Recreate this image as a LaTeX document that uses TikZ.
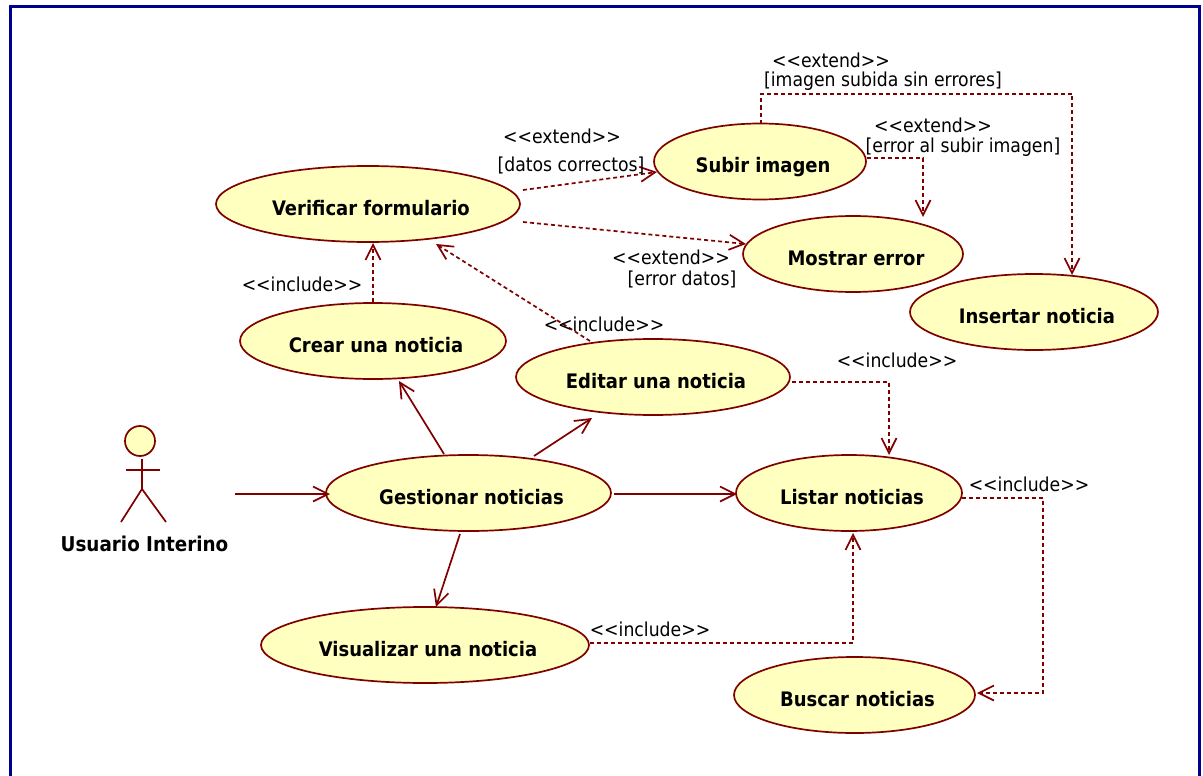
\documentclass[tikz,border=0pt]{standalone}
\usepackage{fontspec}
\setmainfont{DejaVu Sans Condensed}
\usetikzlibrary{shapes.geometric,arrows.meta}
\definecolor{umlred}{HTML}{800000}
\definecolor{umlfill}{HTML}{FFFFC0}
\definecolor{umlblue}{HTML}{000090}
\tikzset{
 usecase/.style={ellipse,draw=umlred,fill=umlfill,line width=1.7pt,inner sep=0pt,text height=22pt,text depth=0pt,font=\fontsize{20}{23}\selectfont\bfseries,execute at begin node={\hspace*{6pt}}},
 lbl/.style={inner sep=0pt,align=center,font=\fontsize{19.2}{22}\selectfont},
 assoc/.style={draw=umlred,line width=1.7pt,-{Straight Barb[length=15pt,width=15pt,line width=1.7pt]}},
 dep/.style={assoc,dash pattern=on 4pt off 3pt},
 limb/.style={draw=umlred,line width=1.7pt},
}
\begin{document}
\begin{tikzpicture}[x=1pt,y=-1pt]
\useasboundingbox (0,0) rectangle (1203,776);
\draw[umlblue,line width=3pt] (10.5,776) -- (10.5,6.5) -- (1199.5,6.5) -- (1199.5,776);
% use cases
\node[usecase,minimum width=304pt,minimum height=76pt] (verif) at (368,204) {Verificar formulario};
\node[usecase,minimum width=212pt,minimum height=76pt] (subir) at (760,161.5) {Subir imagen};
\node[usecase,minimum width=220pt,minimum height=76pt] (mostrar) at (853,254) {Mostrar error};
\node[usecase,minimum width=248pt,minimum height=76pt] (insertar) at (1034,312) {Insertar noticia};
\node[usecase,minimum width=266pt,minimum height=76pt] (crear) at (373,341) {Crear una noticia};
\node[usecase,minimum width=274pt,minimum height=76pt] (editar) at (653,377) {Editar una noticia};
\node[usecase,minimum width=285pt,minimum height=76pt] (gest) at (468.5,493) {Gestionar noticias};
\node[usecase,minimum width=226pt,minimum height=76pt] (listar) at (849,493) {Listar noticias};
\node[usecase,minimum width=328pt,minimum height=76pt] (visual) at (425,645) {Visualizar una noticia};
\node[usecase,minimum width=241pt,minimum height=76pt] (buscar) at (854.5,695) {Buscar noticias};
% actor
\node[circle,draw=umlred,fill=umlfill,line width=1.7pt,minimum size=30pt,inner sep=0pt] (head) at (140,441) {};
\coordinate (hip) at (142,489);
\coordinate (neck) at (142,459);
\coordinate (armL) at (126,470);
\coordinate (armR) at (160,470);
\coordinate (footL) at (121,522);
\coordinate (footR) at (166,522);
\draw[limb] (neck) -- (hip);
\draw[limb] (armL) -- (armR);
\draw[limb] (footL) -- (hip) -- (footR);
\node[lbl,font=\fontsize{20.4}{23}\selectfont\bfseries] (actor) at (144.5,544) {Usuario Interino};
\coordinate (actorout) at (235,494);
% associations
\draw[assoc] (actorout) -- ([shift={(-138.5,1)}]gest.center);
\draw[assoc] ([shift={(-24.5,-39)}]gest.center) -- ([shift={(26,40)}]crear.center);
\draw[assoc] ([shift={(65.5,-37)}]gest.center) -- ([shift={(-61,41)}]editar.center);
\draw[assoc] ([shift={(145.5,1)}]gest.center) -- ([shift={(-112,1)}]listar.center);
\draw[assoc] ([shift={(-8.5,41)}]gest.center) -- ([shift={(11,-38)}]visual.center);
% dependencies
\draw[dep] (crear.north) -- ([shift={(5,39)}]verif.center);
\draw[dep] ([shift={(-63,-36)}]editar.center) -- ([shift={(68,40)}]verif.center);
\draw[dep] ([shift={(155,-14)}]verif.center) -- ([shift={(-103,10.5)}]subir.center);
\draw[dep] ([shift={(155,18)}]verif.center) -- ([shift={(-107,-10)}]mostrar.center);
\draw[dep] ([shift={(1,-38)}]subir.center) -- ++(0,-29.5) -| ([shift={(38,-37)}]insertar.center);
\draw[dep] ([shift={(107,-3.5)}]subir.center) -| ([shift={(70,-37)}]mostrar.center);
\draw[dep] ([shift={(139,5)}]editar.center) -| ([shift={(40,-38)}]listar.center);
\draw[dep] ([shift={(113,5)}]listar.center) -- ++(81,0) |- ([shift={(122.5,-2)}]buscar.center);
\draw[dep] ([shift={(165,-2)}]visual.center) -| ([shift={(4,40)}]listar.center);
% labels
\node[lbl] (l1) at (562,136) {<{}<extend>{}>};
\node[lbl] (l2) at (571,165) {[datos correctos]};
\node[lbl] (l3) at (831,60) {<{}<extend>{}>};
\node[lbl] (l4) at (883,81.5) {[imagen subida sin errores]};
\node[lbl] (l5) at (933,125) {<{}<extend>{}>};
\node[lbl] (l6) at (963,147) {[error al subir imagen]};
\node[lbl] (l7) at (671,257) {<{}<extend>{}>};
\node[lbl] (l8) at (682,279) {[error datos]};
\node[lbl] (l9) at (302,284) {<{}<include>{}>};
\node[lbl] (l10) at (604,324) {<{}<include>{}>};
\node[lbl] (l11) at (897,360) {<{}<include>{}>};
\node[lbl] (l12) at (1029,484) {<{}<include>{}>};
\node[lbl] (l13) at (650,629) {<{}<include>{}>};
\end{tikzpicture}
\end{document}
